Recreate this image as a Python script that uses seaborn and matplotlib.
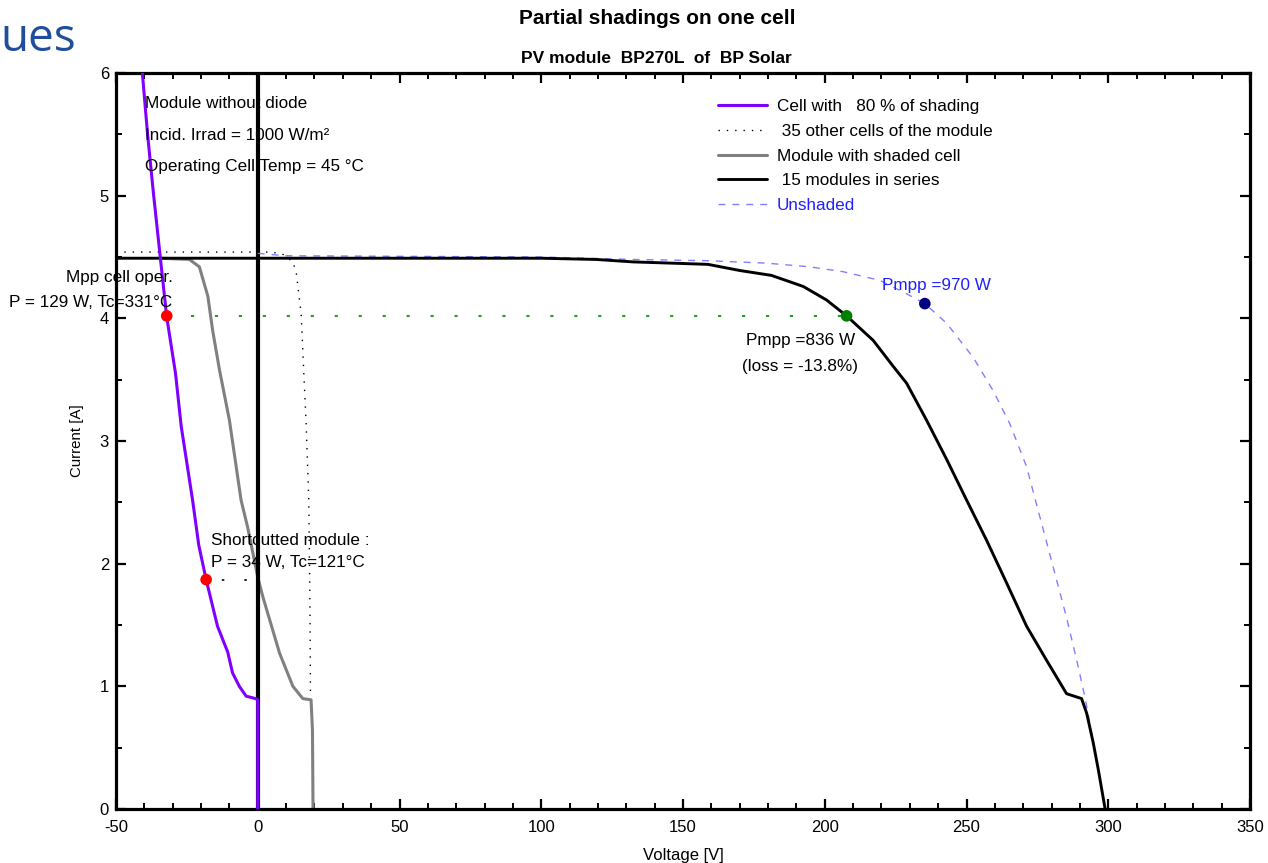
import numpy as np
import pandas as pd
import matplotlib.pyplot as plt
from matplotlib.ticker import MultipleLocator
import seaborn as sns

sns.set_style("white")
plt.rcParams['font.family'] = ['Liberation Sans', 'DejaVu Sans']
plt.rcParams['text.color'] = 'black'
plt.rcParams['axes.labelcolor'] = 'black'
plt.rcParams['xtick.color'] = 'black'
plt.rcParams['ytick.color'] = 'black'
plt.rcParams['axes.unicode_minus'] = False

# --- curves (Voltage [V], Current [A]) ---
cell_v = [-40.7, -38.9, -36.8, -34.3, -32.1, -29.0, -27.0, -23.0, -20.8, -18.2,
          -14.2, -10.6, -8.9, -6.5, -4.1, -0.8, 0.0, 0.0]
cell_i = [6.0, 5.51, 5.02, 4.48, 4.01, 3.55, 3.12, 2.52, 2.15, 1.87,
          1.49, 1.28, 1.11, 1.0, 0.92, 0.90, 0.89, 0.0]

others_v = [-50, 5, 9, 12.4, 13.6, 15.3, 17.1, 18.0, 18.4, 18.6]
others_i = [4.54, 4.54, 4.52, 4.46, 4.37, 4.04, 3.12, 2.52, 1.7, 0.92]

module_v = [-34.0, -24.1, -20.6, -17.6, -15.9, -13.5, -10.0, -5.9, -3.5, 0.0,
            1.8, 7.7, 12.4, 15.9, 18.8, 19.3, 19.5]
module_i = [4.49, 4.48, 4.42, 4.18, 3.90, 3.58, 3.17, 2.52, 2.29, 1.89,
            1.73, 1.27, 1.0, 0.90, 0.89, 0.64, 0.0]

string_v = [-50, 100, 119.4, 132.4, 145.9, 158.8, 170.0, 181.2, 192.4, 200.6,
            207.7, 217.1, 224.1, 228.9, 235.9, 243.0, 250.0, 257.1, 264.2, 271.2,
            278.3, 285.3, 290.6, 292.4, 294.7, 296.5, 298.9]
string_i = [4.49, 4.49, 4.48, 4.46, 4.45, 4.44, 4.39, 4.35, 4.26, 4.15,
            4.02, 3.82, 3.61, 3.47, 3.17, 2.85, 2.52, 2.19, 1.84, 1.49,
            1.21, 0.94, 0.90, 0.78, 0.54, 0.32, 0.0]

unshaded_v = [0, 10, 100, 132.4, 158.3, 179.4, 194.7, 206.5, 219.4, 228.9,
              235.3, 243.0, 252.4, 259.4, 265.3, 271.2, 275.9, 280.6, 285.3, 288.9,
              291.8, 294.7, 298.9]
unshaded_i = [4.53, 4.51, 4.50, 4.48, 4.47, 4.45, 4.42, 4.38, 4.31, 4.20,
              4.12, 3.96, 3.68, 3.41, 3.14, 2.79, 2.38, 1.97, 1.56, 1.21,
              0.91, 0.55, 0.0]

# operating points
cell_mpp = (-32.1, 4.02)
short_pt = (-18.2, 1.87)
shaded_mpp = (207.7, 4.02)
unshaded_mpp = (235.3, 4.12)

legend_labels = ['Cell with   80 % of shading', ' 35 other cells of the module',
                 'Module with shaded cell', ' 15 modules in series', 'Unshaded']

fig = plt.figure(figsize=(12.68, 8.63), dpi=100)
ax = fig.add_axes([116 / 1268, 1 - 809 / 863, 1134 / 1268, 736 / 863])

def curve(v, i, **kw):
    df = pd.DataFrame({'V': v, 'I': i})
    sns.lineplot(data=df, x='V', y='I', sort=False, estimator=None, ax=ax, **kw)

curve(module_v, module_i, color='#808080', lw=2.2, zorder=2)
ax.axvline(0, color='black', lw=3, zorder=3)
curve(string_v, string_i, color='black', lw=2.1, zorder=4)
curve(cell_v, cell_i, color='#8000ff', lw=2.2, zorder=5)
curve(others_v, others_i, color='black', lw=1.0, ls=(0, (1, 5)), zorder=4)
curve(unshaded_v, unshaded_i, color='#8080ff', lw=1.0, ls=(0, (5, 5)), zorder=3)

# dotted guides
ax.plot([cell_mpp[0], shaded_mpp[0]], [cell_mpp[1], shaded_mpp[1]],
        ls=(0, (1.5, 10)), color='#22a022', lw=1.5, zorder=3)
ax.plot([short_pt[0], 0], [short_pt[1], short_pt[1]],
        ls=(4, (1.5, 12)), color='black', lw=1.2, zorder=3)

# points
ax.scatter([cell_mpp[0], short_pt[0]], [cell_mpp[1], short_pt[1]], s=70,
           color='#ff0000', zorder=6, edgecolors='none')
ax.scatter([shaded_mpp[0]], [shaded_mpp[1]], s=70, color='#008000', zorder=6, edgecolors='none')
ax.scatter([unshaded_mpp[0]], [unshaded_mpp[1]], s=70, color='#000080', zorder=6, edgecolors='none')

# axes
ax.set_xlim(-50, 350)
ax.set_ylim(0, 6)
ax.xaxis.set_major_locator(MultipleLocator(50))
ax.xaxis.set_minor_locator(MultipleLocator(10))
ax.yaxis.set_major_locator(MultipleLocator(1))
ax.yaxis.set_minor_locator(MultipleLocator(0.5))
ax.tick_params(which='both', direction='in', top=True, right=True, bottom=True, left=True,
               color='black', labelsize=12)
ax.tick_params(which='major', length=7, width=1.6)
ax.tick_params(which='minor', length=4, width=1.4)
ax.tick_params(axis='x', pad=8)
ax.tick_params(axis='y', pad=5)
for s in ax.spines.values():
    s.set_linewidth(2.3)
    s.set_color('black')
ax.set_xlabel('Voltage [V]', fontsize=12, labelpad=9)
ax.set_ylabel('Current [A]', fontsize=10.8)
ax.yaxis.set_label_coords(-0.028, 0.5)

# titles
fig.text(0.518, 0.979, 'Partial shadings on one cell', ha='center', va='center',
         fontsize=15, fontweight='bold')
fig.text(0.518, 0.932, 'PV module  BP270L  of  BP Solar', ha='center', va='center',
         fontsize=12.5, fontweight='bold')
fig.text(0.0, 0.955, 'ues', ha='left', va='center', fontsize=33, color='#1f4e9a',
         family=['Open Sans', 'DejaVu Sans'])

# annotations
tk = dict(fontsize=12.3, va='center', zorder=7)
ax.text(-39.6, 5.75, 'Module without diode', **tk)
ax.text(-39.6, 5.49, 'Incid. Irrad = 1000 W/m²', **tk)
ax.text(-39.6, 5.24, 'Operating Cell Temp = 45 °C', **tk)
ax.text(-30.1, 4.33, 'Mpp cell oper.', ha='right', clip_on=False, **tk)
ax.text(-30.1, 4.13, 'P = 129 W, Tc=331°C', ha='right', clip_on=False, **tk)
ax.text(-16.6, 2.19, 'Shortcutted module :', **tk)
ax.text(-16.6, 2.01, 'P = 34 W, Tc=121°C', **tk)
ax.text(191.3, 3.82, 'Pmpp =836 W', ha='center', **tk)
ax.text(191.3, 3.61, '(loss = -13.8%)', ha='center', **tk)
ax.text(239.5, 4.27, 'Pmpp =970 W', ha='center', color='#2020ff', **tk)

handles = ax.get_lines()
by_style = [handles[3], handles[4], handles[0], handles[2], handles[5]]
ax.legend(by_style, legend_labels, loc='upper left', bbox_to_anchor=(0.517, 0.985),
          frameon=False, fontsize=12.3, handlelength=2.9, handletextpad=0.55,
          labelspacing=0.56, labelcolor=['black', 'black', 'black', 'black', '#2020ff'])

fig.savefig('out.png', dpi=100)
